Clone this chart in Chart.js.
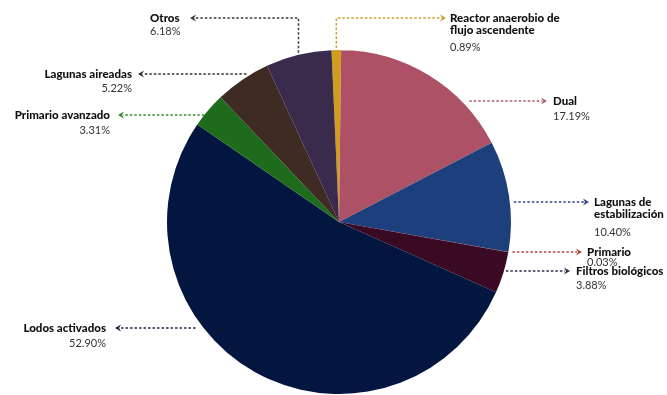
<!DOCTYPE html>
<html>
<head>
<meta charset="utf-8">
<script src="https://cdn.jsdelivr.net/npm/chart.js@4.4.1/dist/chart.umd.min.js"></script>
<style>
  html, body { margin: 0; padding: 0; background: #fff; }
  #wrap { width: 667px; height: 395px; }
</style>
</head>
<body>
<div id="wrap"><canvas id="pie" width="667" height="395"></canvas></div>
<script>
// tipos de tratamiento, en sentido horario desde arriba
var categories = ['Reactor anaerobio de flujo ascendente', 'Dual', 'Lagunas de estabilización', 'Primario',
  'Filtros biológicos', 'Lodos activados', 'Primario avanzado', 'Lagunas aireadas', 'Otros'];
var shares = [0.89, 17.19, 10.40, 0.03, 3.88, 52.90, 3.31, 5.22, 6.18];
var pctLabels = ['0.89%', '17.19%', '10.40%', '0.03%', '3.88%', '52.90%', '3.31%', '5.22%', '6.18%'];
var nameLines = [['Reactor anaerobio de', 'flujo ascendente'], ['Dual'], ['Lagunas de', 'estabilización'], ['Primario'],
  ['Filtros biológicos'], ['Lodos activados'], ['Primario avanzado'], ['Lagunas aireadas'], ['Otros']];

var colors = ['#d19d1f', '#ad5266', '#1d3f7c', '#a8333a', '#3a0a25', '#031640', '#1f6b1c', '#3e2b23', '#3a2a4c'];
var lineColors = ['#c9a227', '#b45a6c', '#34468a', '#b5473f', '#2a2f4a', '#1e2540', '#2e8a2a', '#3a3030', '#3a3a3a'];

// donde va cada etiqueta (side 1 = derecha, -1 = izquierda)
var labelPos = [
  { side: 1, mode: 'v', y: 18, tip: 446, tx: 450, align: 'left', lh: 12, pdy: 29 },
  { side: 1, mode: 'h', y: 101, gap: 8, tip: 547, tx: 553, align: 'left', lh: 12, pdy: 15 },
  { side: 1, mode: 'h', y: 202, gap: 4, tip: 589, tx: 594, align: 'left', lh: 12, pdy: 30 },
  { side: 1, mode: 'h', y: 252, gap: 4, tip: 582, tx: 587, align: 'left', lh: 12, pdy: 10 },
  { side: 1, mode: 'h', y: 271, gap: 2, tip: 570, tx: 576, align: 'left', lh: 12, pdy: 14 },
  { side: -1, mode: 'h', y: 328, gap: 8, tip: 115, tx: 106, align: 'right', lh: 12, pdy: 15 },
  { side: -1, mode: 'h', y: 115, gap: 0, tip: 118, tx: 110, align: 'right', lh: 12, pdy: 15 },
  { side: -1, mode: 'h', y: 74, gap: 5, tip: 138, tx: 132, align: 'right', lh: 12, pdy: 14 },
  { side: -1, mode: 'v', y: 18, tip: 190, tx: 150, align: 'left', lh: 12, pdy: 13 }
];

function arrowHead(ctx, x, y, dir, col) {
  ctx.save();
  ctx.fillStyle = col;
  ctx.beginPath();
  ctx.moveTo(x, y);
  ctx.lineTo(x - dir * 6, y - 3.5);
  ctx.lineTo(x - dir * 4, y);
  ctx.lineTo(x - dir * 6, y + 3.5);
  ctx.closePath();
  ctx.fill();
  ctx.restore();
}

var leaderLabels = {
  id: 'leaderLabels',
  afterDatasetsDraw: function(chart) {
    var ctx = chart.ctx;
    var meta = chart.getDatasetMeta(0);
    meta.data.forEach(function(arc, i) {
      var p = labelPos[i];
      var cx = arc.x, cy = arc.y, r = arc.outerRadius;
      var col = lineColors[i];
      ctx.save();
      ctx.strokeStyle = col;
      ctx.lineWidth = 1.5;
      ctx.setLineDash([2.5, 2]);
      ctx.beginPath();
      if (p.mode === 'v') {
        var mid = (arc.startAngle + arc.endAngle) / 2;
        var px = cx + r * Math.cos(mid);
        var py = cy + r * Math.sin(mid);
        ctx.moveTo(px, py - 2);
        ctx.lineTo(px, p.y);
        ctx.lineTo(p.tip - p.side * 5, p.y);
      } else {
        var dy = p.y - cy;
        var ex = cx + p.side * Math.sqrt(Math.max(0, r * r - dy * dy));
        ctx.moveTo(ex + p.side * p.gap, p.y);
        ctx.lineTo(p.tip - p.side * 5, p.y);
      }
      ctx.stroke();
      ctx.restore();
      arrowHead(ctx, p.tip, p.y, p.side, col);

      ctx.save();
      ctx.textAlign = p.align;
      ctx.textBaseline = 'middle';
      ctx.fillStyle = '#111';
      ctx.font = '900 11.5px Lato';
      nameLines[i].forEach(function(t, k) {
        ctx.fillText(t, p.tx, p.y + k * p.lh);
      });
      ctx.fillStyle = '#333';
      ctx.font = '11px Lato';
      ctx.fillText(pctLabels[i], p.tx, p.y + p.pdy);
      ctx.restore();
    });
  }
};

new Chart(document.getElementById('pie').getContext('2d'), {
  type: 'pie',
  data: {
    labels: categories,
    datasets: [{
      data: shares,
      backgroundColor: colors,
      borderWidth: 0
    }]
  },
  options: {
    responsive: false,
    animation: false,
    rotation: -2.5,
    layout: { padding: { top: 50, bottom: 1, left: 11, right: 0 } },
    plugins: {
      legend: { display: false },
      tooltip: { enabled: false }
    }
  },
  plugins: [leaderLabels]
});
</script>
</body>
</html>
